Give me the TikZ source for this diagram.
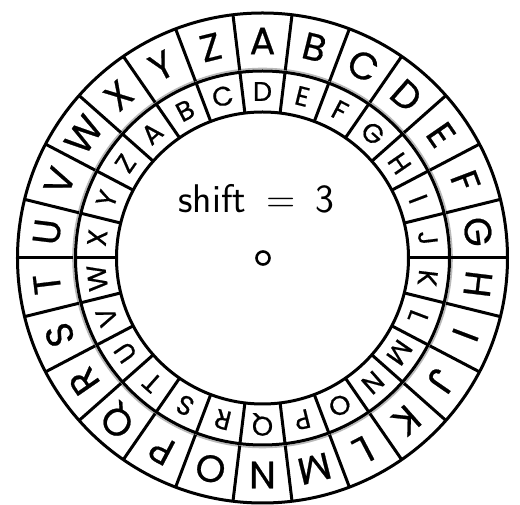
\documentclass[tikz,border=0pt]{standalone}
\usepackage{fontspec}
\newfontfamily\wheelfont[FakeBold=0.6]{Poppins}

\begin{document}
\begin{tikzpicture}[x=1pt, y=1pt,
  rim/.style={line width=3pt},
  outletter/.style={font=\wheelfont\fontsize{38}{38}\selectfont, inner sep=0pt},
  inletter/.style={font=\wheelfont\fontsize{27}{27}\selectfont, inner sep=0pt}]
  \useasboundingbox (-262.5,-247) rectangle (257.5,258);
  % the two rings
  \draw[rim] (0,0) circle (245);
  \draw[gray!55, line width=1.6pt] (0,0) circle (189.5);
  \draw[rim] (0,0) circle (187);
  \draw[rim] (0,0) circle (146);
  % cell walls
  \foreach \k in {0,...,25} {
    \draw[rim] ({90+360/52+\k*360/26}:189) -- ({90+360/52+\k*360/26}:245);
    \draw[rim] ({90+360/52+\k*360/26}:146) -- ({90+360/52+\k*360/26}:187);
  }
  % plain and shifted alphabets
  \foreach \l [count=\k from 0] in {A,...,Z} {
    \node[outletter, rotate={-\k*360/26}] (out\l) at ({90-\k*360/26}:217) {\l};
    \node[inletter, rotate={-(\k-3)*360/26}] (in\l) at ({90-(\k-3)*360/26}:166.5) {\l};
  }
  \node[font=\sffamily\fontsize{40}{40}\selectfont] (shift) at (-6,59) {shift\hspace{0.5em}=\hspace{0.5em}3};
  \node[draw, circle, line width=2.6pt, minimum size=13pt, inner sep=0pt] (hub) at (0.5,0) {};
\end{tikzpicture}
\end{document}
